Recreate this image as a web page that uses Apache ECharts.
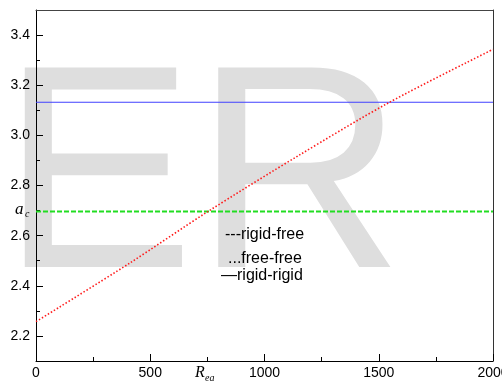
<!DOCTYPE html>
<html>
<head>
<meta charset="utf-8">
<script src="https://cdn.jsdelivr.net/npm/echarts@6/dist/echarts.min.js"></script>
<style>
  html, body { margin: 0; padding: 0; background: #fff; }
  #myChart { width: 502px; height: 384px; }
</style>
</head>
<body>
<div id="myChart"></div>
<script>
var reaValues = [0, 406, 752, 1150, 1547, 2000];
var freeFree = [2.257, 2.488, 2.696, 2.92, 3.132, 3.343];
// flat lines
var lineEnds = [0, 2000];
var rigidFree = [2.696, 2.696];
var rigidRigid = [3.132, 3.132];
// ticks
var xTicks = [0, 500, 1000, 1500, 2000];
var xMinorTicks = [250, 750, 1250, 1750];
var yTicks = [2.2, 2.4, 2.6, 2.8, 3.0, 3.2, 3.4];
var yMinorTicks = [2.3, 2.5, 2.7, 2.9, 3.1, 3.3];

function pairs(xs, ys) {
  return xs.map(function (x, i) { return [x, ys[i]]; });
}

var myChart = echarts.init(document.getElementById('myChart'));
var sans = 'Arial, "Liberation Sans", sans-serif';
var serif = '"Times New Roman", "Liberation Serif", serif';

var option = {
  animation: false,
  grid: { left: 36, right: 9, top: 10, bottom: 23, outerBoundsMode: 'none', containLabel: false },
  xAxis: [
    {
      type: 'value', min: 0, max: 2000, position: 'bottom',
      splitLine: { show: false },
      axisLine: { show: true, onZero: false, lineStyle: { color: '#000', width: 1 } },
      axisTick: { show: true, inside: true, length: 7, customValues: xTicks, lineStyle: { color: '#000' } },
      axisLabel: {
        customValues: xTicks, margin: 5, color: '#000', fontSize: 14, fontFamily: sans,
        formatter: function (v) { return String(v); }
      }
    },
    {
      type: 'value', min: 0, max: 2000, position: 'bottom',
      splitLine: { show: false },
      axisLine: { show: false, onZero: false },
      axisTick: { show: true, inside: true, length: 4, customValues: xMinorTicks, lineStyle: { color: '#000' } },
      axisLabel: { show: false }
    },
    {
      type: 'value', min: 0, max: 2000, position: 'top',
      splitLine: { show: false },
      axisLine: { show: true, onZero: false, lineStyle: { color: '#444', width: 1 } },
      axisTick: { show: false }, axisLabel: { show: false }
    }
  ],
  yAxis: [
    {
      type: 'value', min: 2.1, max: 3.5, position: 'left',
      splitLine: { show: false },
      axisLine: { show: true, onZero: false, lineStyle: { color: '#000', width: 1 } },
      axisTick: { show: true, inside: true, length: 7, customValues: yTicks, lineStyle: { color: '#000' } },
      axisLabel: {
        customValues: yTicks, margin: 6, color: '#000', fontSize: 14, fontFamily: sans,
        formatter: function (v) { return v.toFixed(1); }
      }
    },
    {
      type: 'value', min: 2.1, max: 3.5, position: 'left',
      splitLine: { show: false },
      axisLine: { show: false, onZero: false },
      axisTick: { show: true, inside: true, length: 4, customValues: yMinorTicks, lineStyle: { color: '#000' } },
      axisLabel: { show: false }
    },
    {
      type: 'value', min: 2.1, max: 3.5, position: 'right',
      splitLine: { show: false },
      axisLine: { show: true, onZero: false, lineStyle: { color: '#333', width: 1 } },
      axisTick: { show: false }, axisLabel: { show: false }
    }
  ],
  graphic: [
    // big grey watermark behind everything
    {
      type: 'text', z: -10, silent: true,
      style: {
        text: 'ER', x: 1, y: 187, fill: '#dedede',
        font: '290px ' + sans,
        textAlign: 'left', align: 'left', verticalAlign: 'middle', textVerticalAlign: 'middle'
      }
    },
    { type: 'text', z: 10, style: { text: '---rigid-free', x: 225, y: 234.5, fill: '#000', font: '16px ' + sans, verticalAlign: 'middle', textVerticalAlign: 'middle' } },
    { type: 'text', z: 10, style: { text: '...free-free', x: 228, y: 258.5, fill: '#000', font: '16px ' + sans, verticalAlign: 'middle', textVerticalAlign: 'middle' } },
    { type: 'text', z: 10, style: { text: '\u2014rigid-rigid', x: 221, y: 275.5, fill: '#000', font: '16px ' + sans, verticalAlign: 'middle', textVerticalAlign: 'middle' } },
    // a_c label on the y axis
    { type: 'text', z: 10, style: { text: 'a', x: 15, y: 209.5, fill: '#000', font: 'italic 17px ' + serif, verticalAlign: 'middle', textVerticalAlign: 'middle' } },
    { type: 'text', z: 10, style: { text: 'c', x: 25, y: 214.6, fill: '#000', font: 'italic 10px ' + serif, verticalAlign: 'middle', textVerticalAlign: 'middle' } },
    // R_ea label on the x axis
    { type: 'text', z: 10, style: { text: 'R', x: 195, y: 372.6, fill: '#000', font: 'italic 16px ' + serif, verticalAlign: 'middle', textVerticalAlign: 'middle' } },
    { type: 'text', z: 10, style: { text: 'ea', x: 205, y: 378, fill: '#000', font: 'italic 10px ' + serif, verticalAlign: 'middle', textVerticalAlign: 'middle' } }
  ],
  series: [
    {
      name: 'rigid-rigid', type: 'line', xAxisIndex: 0, yAxisIndex: 0,
      data: pairs(lineEnds, rigidRigid), symbol: 'none',
      lineStyle: { color: '#4040ff', width: 1.2 }
    },
    {
      name: 'rigid-free', type: 'line', xAxisIndex: 0, yAxisIndex: 0,
      data: pairs(lineEnds, rigidFree), symbol: 'none',
      lineStyle: { color: '#22dd22', width: 2, type: [5, 2] }
    },
    {
      name: 'free-free', type: 'line', xAxisIndex: 0, yAxisIndex: 0,
      data: pairs(reaValues, freeFree), symbol: 'none', smooth: 0.3,
      lineStyle: { color: '#ff1a1a', width: 1.6, type: [1.5, 2] }
    }
  ]
};
myChart.setOption(option);
</script>
</body>
</html>
